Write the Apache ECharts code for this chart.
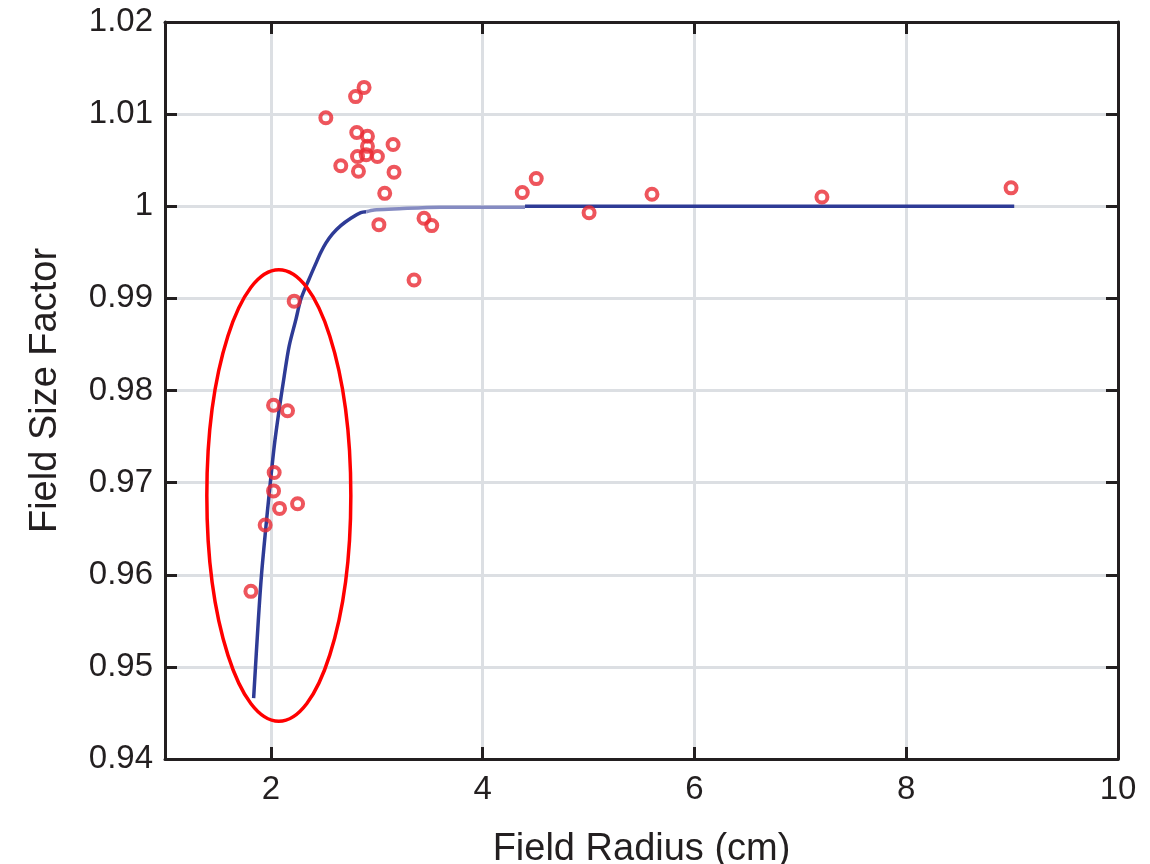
<!DOCTYPE html>
<html><head><meta charset="utf-8">
<script src="https://cdn.jsdelivr.net/npm/echarts@6/dist/echarts.min.js"></script>
<style>html,body{margin:0;padding:0;background:#fff}#c{width:1150px;height:864px}</style>
</head><body><div id="c"></div>
<script>
// ---- data ----
const xTickValues = [2, 4, 6, 8, 10];
const measX = [2.880, 2.800, 2.519, 2.811, 2.912, 2.912, 3.154, 2.818, 3.006, 2.900, 2.660, 2.827, 3.163, 3.075, 3.020, 3.446, 3.519, 3.352, 4.374, 4.506, 5.005, 5.599, 7.204, 8.990, 2.220, 2.025, 2.157, 2.031, 2.025, 2.082, 2.252, 1.946, 1.811];
const measY = [1.0129, 1.0119, 1.0096, 1.0080, 1.0076, 1.0065, 1.0067, 1.0054, 1.0054, 1.0056, 1.0044, 1.0038, 1.0037, 1.0014, 0.9980, 0.9987, 0.9979, 0.9920, 1.0015, 1.0030, 0.9993, 1.0013, 1.0010, 1.0020, 0.9897, 0.9784, 0.9778, 0.9711, 0.9691, 0.9672, 0.9677, 0.9654, 0.9582];
const fitX = [1.837, 1.881, 1.912, 1.953, 1.984, 2.031, 2.078, 2.125, 2.172, 2.236, 2.283, 2.361, 2.425, 2.472, 2.519, 2.582, 2.660, 2.755, 2.849, 2.900];
const fitY = [0.9466, 0.9550, 0.9601, 0.9652, 0.9688, 0.9739, 0.9779, 0.9815, 0.9848, 0.9877, 0.9899, 0.9921, 0.9938, 0.9950, 0.9960, 0.9970, 0.9979, 0.9987, 0.9993, 0.9994];
const plateauX = [2.900, 2.975, 3.160, 3.600, 4.400];
const plateauY = [0.9994, 0.9996, 0.9997, 0.9999, 0.9999];
const unityX = [4.400, 9.020];
const unityY = [1.0000, 1.0000];
const ellipseCenter = [2.075, 0.9686];
const ellipseRadius = [0.680, 0.0245];

const zip = (a, b) => a.map((v, i) => [v, b[i]]);
const dark = '#231f20';
const fontFamily = '"Liberation Sans", Arial, sans-serif';

const chart = echarts.init(document.getElementById('c'), null, { renderer: 'canvas' });
const baseAxis = {
  type: 'value',
  axisLine: { show: true, onZero: false, lineStyle: { color: dark, width: 3 } },
  axisTick: { show: true, inside: true, length: 12, lineStyle: { color: dark, width: 3 } },
};
chart.setOption({
  animation: false,
  backgroundColor: '#fff',
  grid: { left: 165, right: 32, top: 22, bottom: 105, containLabel: false, outerBoundsMode: 'none' },
  xAxis: [
    Object.assign({}, baseAxis, {
      min: 1, max: 10, position: 'bottom',
      axisTick: Object.assign({}, baseAxis.axisTick, { customValues: xTickValues }),
      axisLabel: { customValues: xTickValues, fontSize: 33, color: dark, margin: 14, fontFamily },
      splitLine: { show: true, lineStyle: { color: '#dcdfe3', width: 3 } },
      name: 'Field Radius (cm)', nameLocation: 'middle', nameGap: 72,
      nameTextStyle: { fontSize: 38, color: dark, fontFamily }
    }),
    Object.assign({}, baseAxis, {
      min: 1, max: 10, position: 'top',
      axisTick: Object.assign({}, baseAxis.axisTick, { customValues: xTickValues }),
      axisLabel: { show: false }, splitLine: { show: false }
    })
  ],
  yAxis: [
    Object.assign({}, baseAxis, {
      min: 0.94, max: 1.02, interval: 0.01, position: 'left',
      axisLabel: { fontSize: 33, color: dark, margin: 12, fontFamily },
      splitLine: { show: true, lineStyle: { color: '#dcdfe3', width: 3 } },
      name: 'Field Size Factor', nameLocation: 'middle', nameGap: 100,
      nameTextStyle: { fontSize: 38, color: dark, fontFamily }
    }),
    Object.assign({}, baseAxis, {
      min: 0.94, max: 1.02, interval: 0.01, position: 'right',
      axisLabel: { show: false }, splitLine: { show: false }
    })
  ],
  series: [
    { type: 'line', data: zip(fitX, fitY), showSymbol: false, smooth: 0.3, lineStyle: { color: '#2e3b96', width: 3.5 }, z: 3 },
    { type: 'line', data: zip(plateauX, plateauY), showSymbol: false, smooth: 0.3, lineStyle: { color: '#858bc2', width: 3.5 }, z: 3 },
    { type: 'line', data: zip(unityX, unityY), showSymbol: false, lineStyle: { color: '#2e3b96', width: 3.5 }, z: 3 },
    { type: 'scatter', data: zip(measX, measY), symbol: 'circle', symbolSize: 11,
      itemStyle: { color: 'rgba(255,255,255,0)', borderColor: '#ea2a33', borderWidth: 4 }, z: 4 }
  ]
});

// red ellipse annotation positioned through the chart's scales
const c = chart.convertToPixel({ xAxisIndex: 0, yAxisIndex: 0 }, ellipseCenter);
const e = chart.convertToPixel({ xAxisIndex: 0, yAxisIndex: 0 }, [ellipseCenter[0] + ellipseRadius[0], ellipseCenter[1] + ellipseRadius[1]]);
chart.setOption({
  graphic: [{
    type: 'ellipse', z: 100,
    shape: { cx: c[0], cy: c[1], rx: Math.abs(e[0] - c[0]), ry: Math.abs(e[1] - c[1]) },
    style: { fill: null, stroke: '#ff0000', lineWidth: 3.5 }
  }]
});
</script></body></html>
